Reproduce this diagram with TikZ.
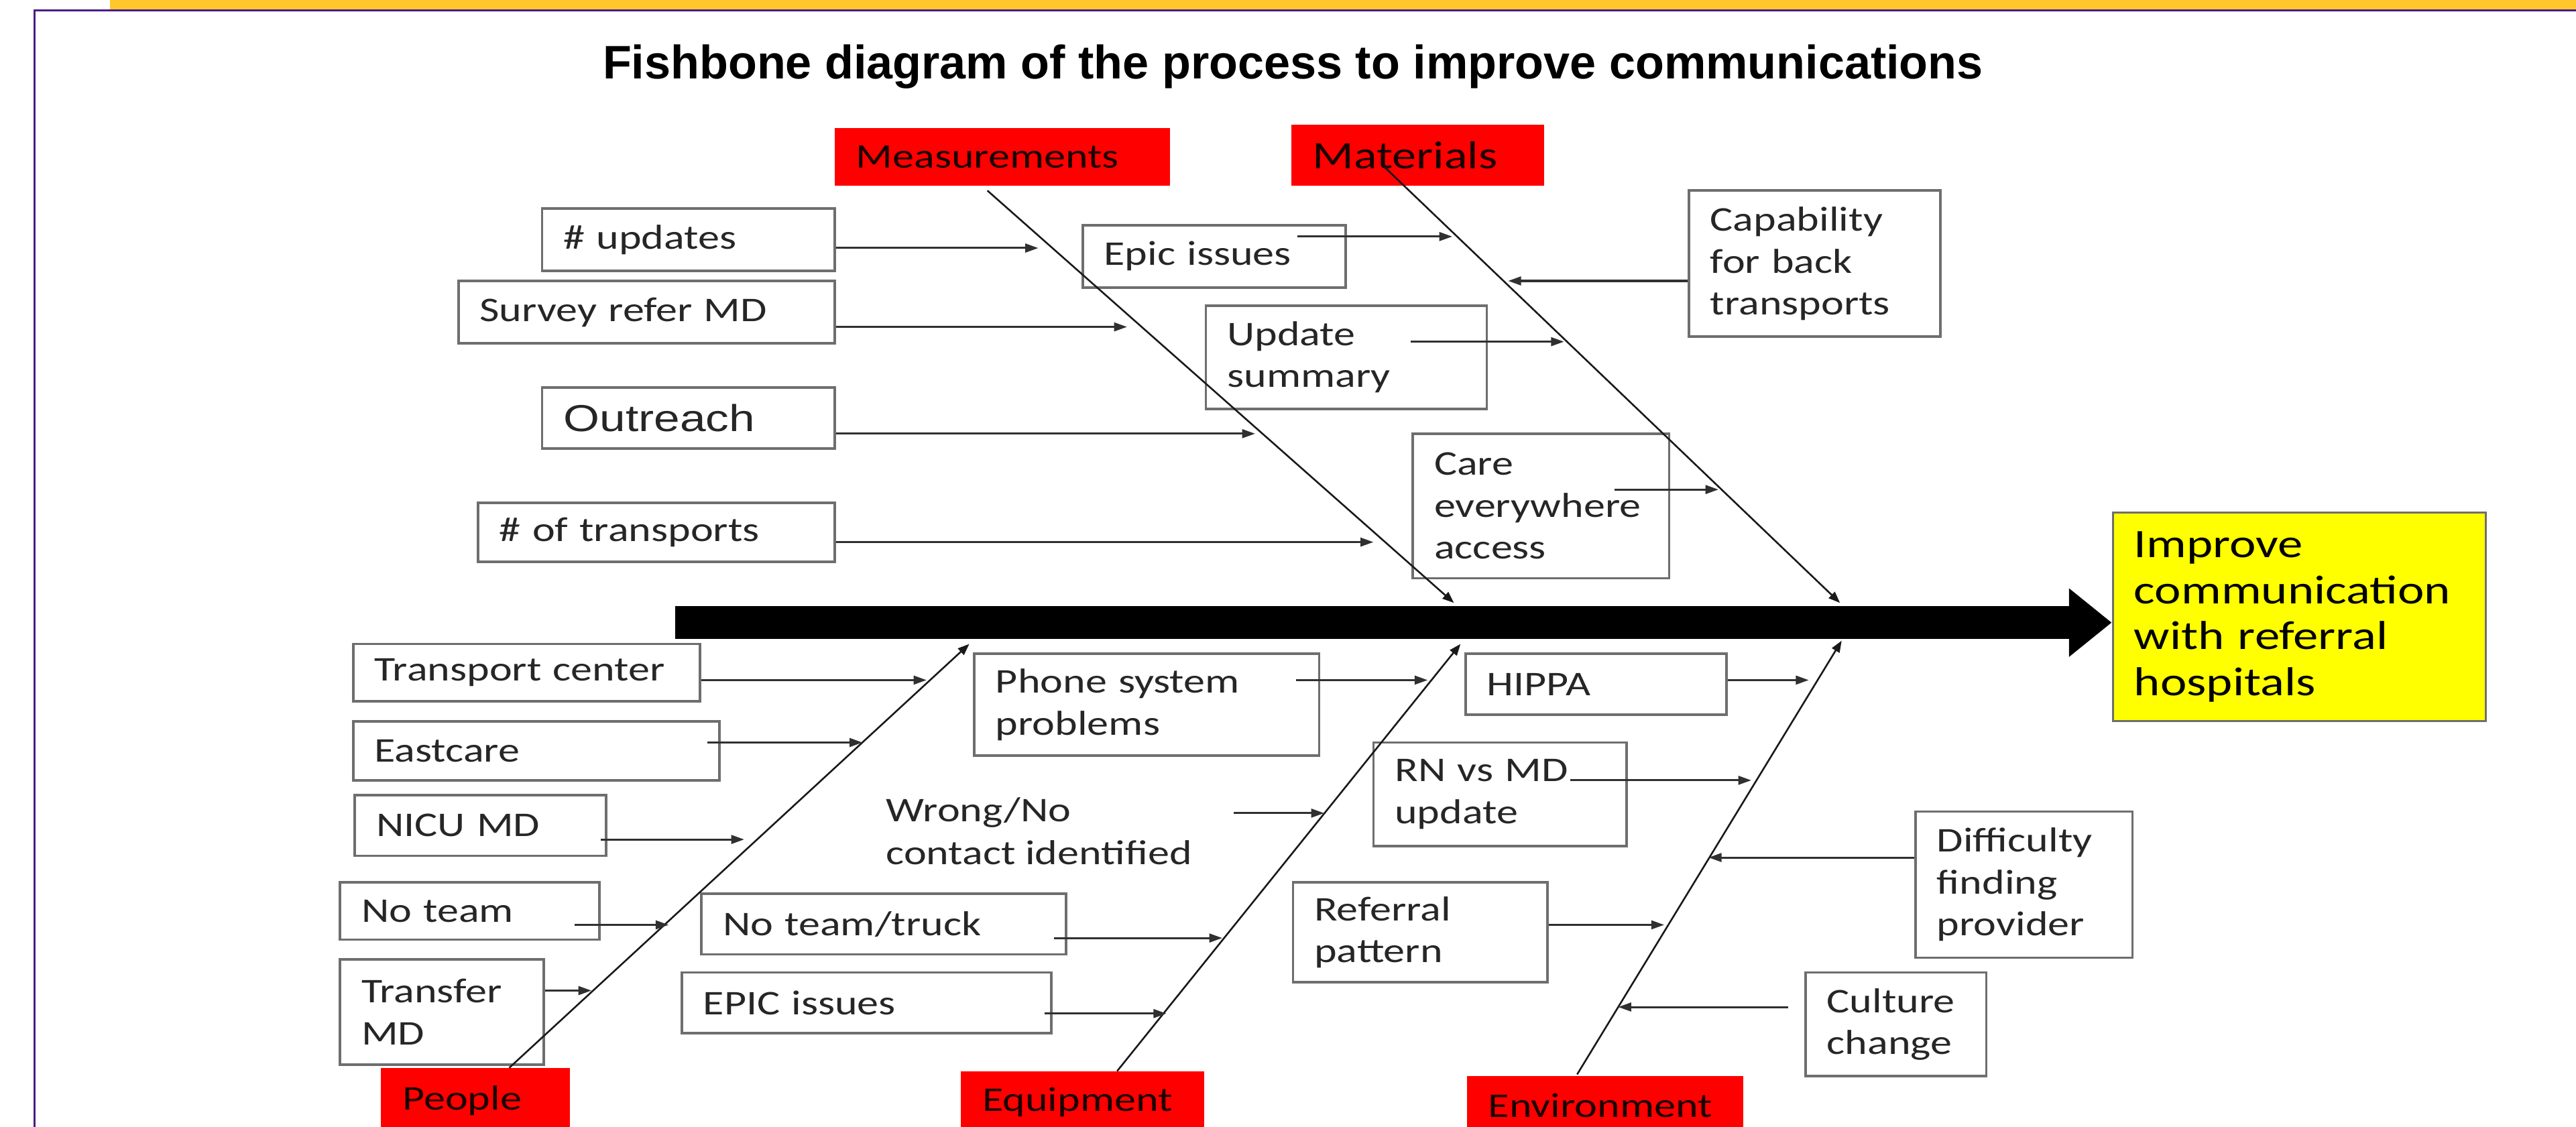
\documentclass[tikz,border=0pt]{standalone}
\usepackage{fontspec}
\setmainfont{Carlito}[FakeStretch=1.24]
\newfontfamily\headFont{Liberation Sans}
\newfontfamily\arialFont{Liberation Sans}[FakeStretch=1.24]
\usetikzlibrary{arrows.meta,calc}
\definecolor{fbFrame}{HTML}{4B1C84}
\definecolor{fbGold}{HTML}{FFC72C}
\definecolor{fbRed}{HTML}{FF0000}
\definecolor{fbYellow}{HTML}{FFFF00}
\definecolor{fbBorder}{HTML}{6E6E6E}
\definecolor{fbInk}{HTML}{262626}
\definecolor{fbWire}{HTML}{303030}
\tikzset{
  causeBox/.style={rectangle, draw=fbBorder, line width=0.85pt, fill=white, align=left,
    inner xsep=0.26cm, inner ysep=0pt, font=\fontsize{12}{14.5}\selectfont, text=fbInk},
  catBox/.style={rectangle, fill=fbRed, align=left, inner xsep=0.26cm, inner ysep=0pt,
    font=\fontsize{12}{14.5}\selectfont, text=black!90!red},
  effectBox/.style={rectangle, draw=fbBorder, line width=0.7pt, fill=fbYellow, align=left,
    inner xsep=0.26cm, inner ysep=0pt, font=\fontsize{14}{16}\selectfont, text=black},
  spine/.style={-{Triangle[length=0.52cm, width=0.8cm]}, line width=0.4cm, color=black},
  bone/.style={-{Triangle[length=4pt, width=3pt]}, line width=0.6pt, color=black!90},
  feed/.style={-{Triangle[length=4.5pt, width=3pt]}, line width=0.7pt, color=fbWire},
}

\begin{document}
\begin{tikzpicture}[x=0.02cm, y=-0.02cm]
  \useasboundingbox (0,0) rectangle (1568,686);
  \fill[fbGold] (67,-4) rectangle (1572,6);
  \draw[fbFrame, line width=0.7pt] (21,690) -- (21,6.4) -- (1572,6.4);

  \node[font=\headFont\fontsize{16.3}{20}\selectfont\bfseries, anchor=base] (title) at (787,48)
    {Fishbone diagram of the process to improve communications};

  % category heads
  \node[catBox, text width=3.56cm, minimum height=0.70cm] (meas) at (610,95.5) {Measurements};
  \node[catBox, text width=2.56cm, minimum height=0.74cm, font=\fontsize{13.5}{16}\selectfont]
    (mat) at (863,94.5) {Materials};
  \node[catBox, text width=1.78cm, minimum height=0.80cm] (people) at (289.5,670) {People};
  \node[catBox, text width=2.44cm, minimum height=0.76cm] (equip) at (659,671) {Equipment};
  \node[catBox, text width=2.84cm, minimum height=0.72cm] (envr) at (977,673) {Environment};

  \node[effectBox, text width=4.02cm, minimum height=2.54cm] (effect) at (1399.5,375.5)
    {Improve\\communication\\with referral\\hospitals};

  % measurements
  \node[causeBox, text width=3.04cm, minimum height=0.76cm] (upd) at (419,146) {\# updates};
  \node[causeBox, text width=4.06cm, minimum height=0.76cm] (svy) at (393.5,190) {Survey refer MD};
  \node[causeBox, text width=3.04cm, minimum height=0.74cm, font=\arialFont\fontsize{13}{15}\selectfont]
    (outr) at (419,254.5) {Outreach};
  \node[causeBox, text width=3.82cm, minimum height=0.72cm] (ntr) at (399.5,324) {\# of transports};

  % materials
  \node[causeBox, text width=2.68cm, minimum height=0.76cm] (epic) at (739,156) {Epic issues};
  \node[causeBox, text width=2.90cm, minimum height=1.26cm] (usum) at (819.5,217.5) {Update\\summary};
  \node[causeBox, text width=2.60cm, minimum height=1.76cm] (care) at (938,308) {Care\\everywhere\\access};
  \node[causeBox, text width=2.54cm, minimum height=1.78cm] (cap) at (1104.5,160.5)
    {Capability\\for back\\transports};

  % people
  \node[causeBox, text width=3.70cm, minimum height=0.70cm] (tctr) at (320.5,409.5) {Transport center};
  \node[causeBox, text width=3.94cm, minimum height=0.72cm] (east) at (326.5,457) {Eastcare};
  \node[causeBox, text width=2.54cm, minimum height=0.74cm] (nicu) at (292.5,502.5) {NICU MD};
  \node[causeBox, text width=2.64cm, minimum height=0.70cm] (nteam) at (286,554.5) {No team};
  \node[causeBox, text width=1.96cm, minimum height=1.28cm] (tmd) at (269,616) {Transfer\\MD};

  % equipment
  \node[causeBox, text width=3.68cm, minimum height=1.24cm] (phone) at (698,429) {Phone system\\problems};
  \node[anchor=west, align=left, inner sep=0pt, font=\fontsize{12}{14.8}\selectfont, text=fbInk]
    (wrong) at (539,506) {Wrong/No\\contact identified};
  \node[causeBox, text width=3.92cm, minimum height=0.74cm] (ntt) at (538,562.5) {No team/truck};
  \node[causeBox, text width=3.98cm, minimum height=0.74cm] (epic2) at (527.5,610.5) {EPIC issues};

  % environment
  \node[causeBox, text width=2.66cm, minimum height=0.74cm] (hippa) at (971.5,416.5) {HIPPA};
  \node[causeBox, text width=2.56cm, minimum height=1.26cm] (rnmd) at (913,483.5) {RN vs MD\\update};
  \node[causeBox, text width=2.58cm, minimum height=1.22cm] (refp) at (864.5,567.5) {Referral\\pattern};
  \node[causeBox, text width=2.12cm, minimum height=1.78cm] (diff) at (1232,538.5)
    {Difficulty\\finding\\provider};
  \node[causeBox, text width=1.68cm, minimum height=1.26cm] (cult) at (1154,623.5) {Culture\\change};

  % bones
  \coordinate (measRoot) at (601,116);   \coordinate (measEnd) at (885,367);
  \coordinate (matRoot) at (842,101);    \coordinate (matEnd) at (1120,367);
  \coordinate (peopleRoot) at (310,650); \coordinate (peopleEnd) at (590,392);
  \coordinate (equipRoot) at (680,652);  \coordinate (equipEnd) at (889,392);
  \coordinate (envrRoot) at (960,654);   \coordinate (envrEnd) at (1121,390);

  \draw[bone] (measRoot) -- (measEnd);
  \draw[bone] (matRoot) -- (matEnd);
  \draw[bone] (peopleRoot) -- (peopleEnd);
  \draw[bone] (equipRoot) -- (equipEnd);
  \draw[bone] (envrRoot) -- (envrEnd);

  % arrow tips on the bones
  \coordinate (updTip) at (632,151);    \coordinate (svyTip) at (686,199);
  \coordinate (outrTip) at (764,264);   \coordinate (ntrTip) at (836,330);
  \coordinate (epicTip) at (884,144);   \coordinate (usumTip) at (952,208);
  \coordinate (careTip) at (1046,298);  \coordinate (capTip) at (918,171);
  \coordinate (tctrTip) at (564,414);   \coordinate (eastTip) at (525,452);
  \coordinate (nicuTip) at (453,511);   \coordinate (nteamTip) at (407,563);
  \coordinate (tmdTip) at (360,603);
  \coordinate (phoneTip) at (869,414);  \coordinate (wrongTip) at (806,495);
  \coordinate (nttTip) at (744,571);    \coordinate (epic2Tip) at (710,617);
  \coordinate (hippaTip) at (1101,414); \coordinate (rnmdTip) at (1066,475);
  \coordinate (refpTip) at (1013,563);  \coordinate (diffTip) at (1040,522);
  \coordinate (cultTip) at (985,613);

  \draw[feed] (upd.east |- updTip) -- (updTip);
  \draw[feed] (svy.east |- svyTip) -- (svyTip);
  \draw[feed] (outr.east |- outrTip) -- (outrTip);
  \draw[feed] (ntr.east |- ntrTip) -- (ntrTip);

  \draw[feed] ($(epic.east |- epicTip)+(-30,0)$) -- (epicTip);
  \draw[feed] ($(usum.east |- usumTip)+(-47,0)$) -- (usumTip);
  \draw[feed] ($(care.east |- careTip)+(-34,0)$) -- (careTip);
  \draw[feed] (cap.west |- capTip) -- (capTip);

  \draw[feed] (tctr.east |- tctrTip) -- (tctrTip);
  \draw[feed] ($(east.east |- eastTip)+(-8,0)$) -- (eastTip);
  \draw[feed] ($(nicu.east |- nicuTip)+(-4,0)$) -- (nicuTip);
  \draw[feed] ($(nteam.east |- nteamTip)+(-16,0)$) -- (nteamTip);
  \draw[feed] (tmd.east |- tmdTip) -- (tmdTip);

  \draw[feed] ($(phone.east |- phoneTip)+(-15,0)$) -- (phoneTip);
  \draw[feed] ($(wrong.east |- wrongTip)+(25,0)$) -- (wrongTip);
  \draw[feed] ($(ntt.east |- nttTip)+(-8,0)$) -- (nttTip);
  \draw[feed] ($(epic2.east |- epic2Tip)+(-5,0)$) -- (epic2Tip);

  \draw[feed] (hippa.east |- hippaTip) -- (hippaTip);
  \draw[feed] ($(rnmd.east |- rnmdTip)+(-35,0)$) -- (rnmdTip);
  \draw[feed] (refp.east |- refpTip) -- (refpTip);
  \draw[feed] (diff.west |- diffTip) -- (diffTip);
  \draw[feed] ($(cult.west |- cultTip)+(-10,0)$) -- (cultTip);

  % spine
  \coordinate (tail) at (411,379);
  \draw[spine] (tail) -- (effect.west |- tail);
\end{tikzpicture}
\end{document}
